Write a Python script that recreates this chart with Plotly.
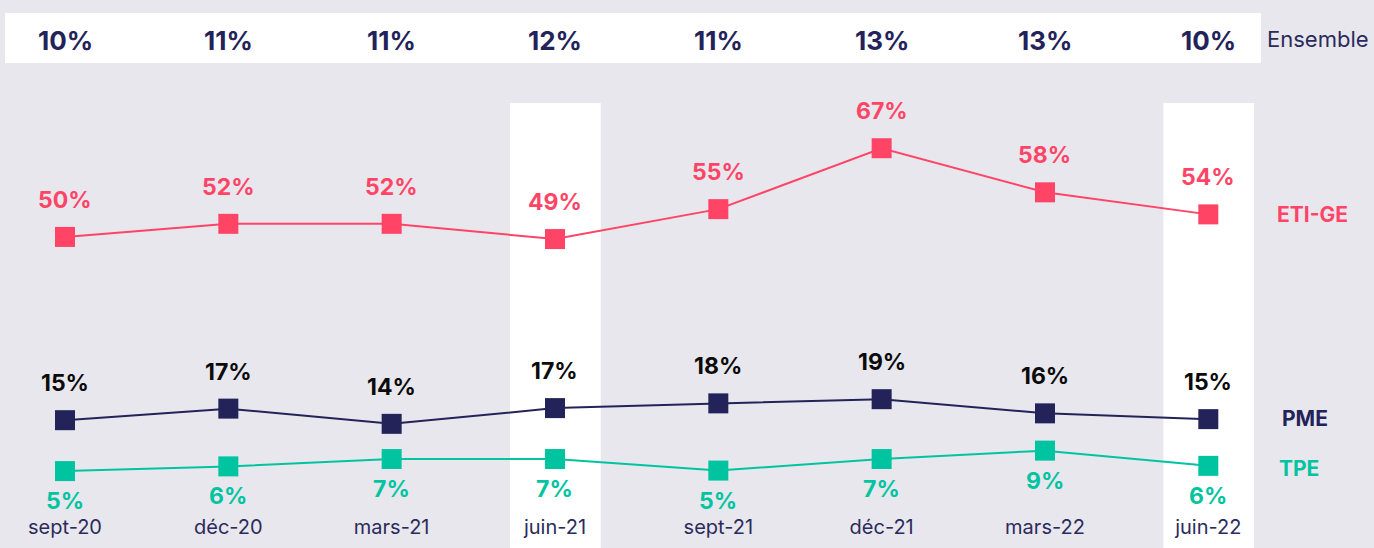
import plotly.graph_objects as go

# ---- data ----
periods = ["sept-20", "déc-20", "mars-21", "juin-21", "sept-21", "déc-21", "mars-22", "juin-22"]
ensemble = [10, 11, 11, 12, 11, 13, 13, 10]
eti_ge = [49.7, 52.2, 52.2, 49.3, 55.0, 66.6, 58.2, 54.0]
pme = [14.8, 17.0, 14.1, 17.1, 18.0, 18.8, 16.1, 15.0]
tpe = [5.1, 6.0, 7.4, 7.4, 5.2, 7.4, 9.0, 6.1]
highlighted = ["juin-21", "juin-22"]

series = [
    # name, values, line/marker color, label color, label shift, name x, name shift
    ("ETI-GE", eti_ge, "#FF4466", "#FF4466", 37, 7.635, 0),
    ("PME", pme, "#23235A", "#0B0B0B", 37, 7.59, 1),
    ("TPE", tpe, "#00C4A0", "#00C4A0", -30, 7.555, -3),
]

W, H = 1374, 548
MB = 37
PH = H - MB
FONT = "Inter"
NAVY = "#23235A"

xs = list(range(len(periods)))

fig = go.Figure()
annotations = []

for name, vals, col, lcol, shift, nx, nshift in series:
    fig.add_trace(go.Scatter(
        x=xs, y=vals, mode="lines+markers", name=name,
        line=dict(color=col, width=2),
        marker=dict(symbol="square", size=20, color=col),
        hoverinfo="skip", showlegend=False,
    ))
    for x, v in zip(xs, vals):
        annotations.append(dict(
            x=x, y=v, xref="x", yref="y", text=f"{v:.0f}%", showarrow=False,
            xanchor="center", yanchor="middle",
            yshift=shift, font=dict(family=FONT, size=23, color=lcol, weight="bold"),
        ))
    annotations.append(dict(
        x=nx, y=vals[-1], xref="x", yref="y", text=name, showarrow=False,
        xanchor="center", yanchor="middle",
        yshift=nshift, font=dict(family=FONT, size=21, color=col, weight="bold"),
    ))

# Ensemble row
for x, v in zip(xs, ensemble):
    annotations.append(dict(
        x=x, y=(PH - 40) / PH, xref="x", yref="paper", text=f"{v}%", showarrow=False,
        xanchor="center", yanchor="middle",
        font=dict(family=FONT, size=26, color=NAVY, weight="bold"),
    ))
annotations.append(dict(
    x=1318 / W, y=(PH - 39) / PH, xref="paper", yref="paper", text="Ensemble",
    xanchor="center", yanchor="middle",
    showarrow=False, font=dict(family=FONT, size=22, color="#2B2B5B"),
))

shapes = [
    dict(type="rect", xref="paper", yref="paper",
         x0=5 / W, x1=1261 / W, y0=(PH - 63) / PH, y1=(PH - 13) / PH,
         fillcolor="white", line=dict(width=0), layer="below"),
]
for p in highlighted:
    i = periods.index(p)
    shapes.append(dict(
        type="rect", xref="x", yref="paper",
        x0=i - 0.275, x1=i + 0.28, y0=(PH - H) / PH, y1=(PH - 103) / PH,
        fillcolor="white", line=dict(width=0), layer="below",
    ))

fig.update_layout(
    width=W, height=H,
    margin=dict(l=0, r=0, t=0, b=MB),
    paper_bgcolor="#E8E7EE", plot_bgcolor="#E8E7EE",
    xaxis=dict(range=[-65 / 163.33, (W - 65) / 163.33], tickvals=xs, ticktext=periods,
               showgrid=False, zeroline=False, showline=False, ticks="",
               ticklabelstandoff=2,
               tickfont=dict(family=FONT, size=20, color="#2B2B5B")),
    yaxis=dict(range=[-2.5, PH / 5.25 - 2.5], visible=False, fixedrange=True),
    shapes=shapes,
    annotations=annotations,
)

fig.write_html(
    "out.html",
    config={"displayModeBar": False},
    post_script="document.body.style.margin='0';document.body.style.overflow='hidden';",
)
